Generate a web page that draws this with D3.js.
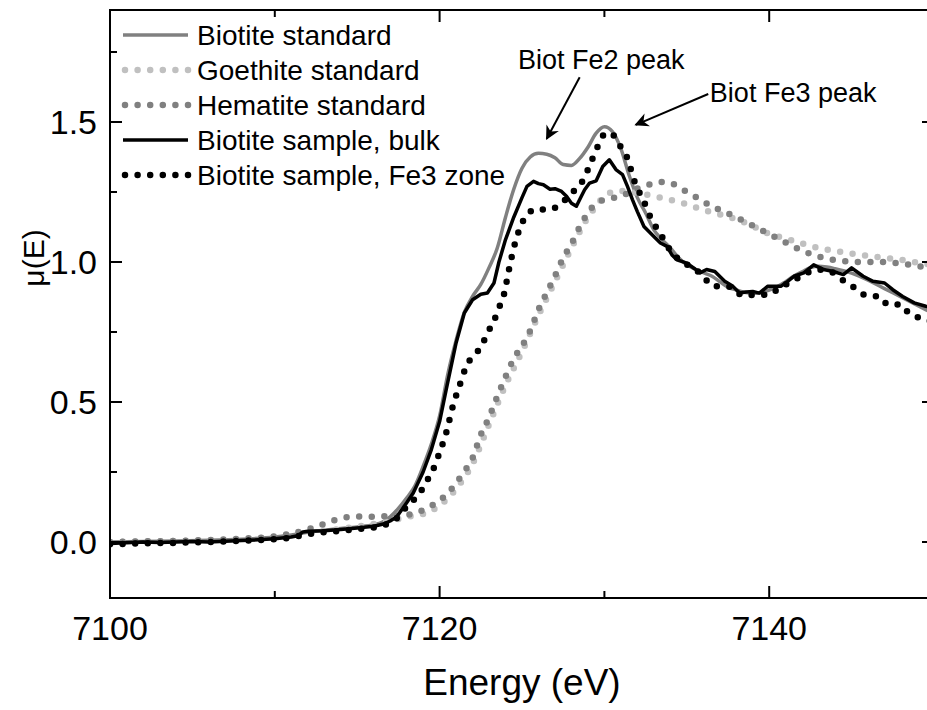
<!DOCTYPE html>
<html>
<head>
<meta charset="utf-8">
<script src="https://cdn.jsdelivr.net/npm/d3@7"></script>
<style>
  html, body { margin: 0; padding: 0; background: #fff; }
  svg { display: block; }
  text { font-family: "Liberation Sans", Arial, Helvetica, sans-serif; fill: #000; }
</style>
</head>
<body>
<svg id="chart" width="927" height="710"></svg>
<script>
// ---------- DATA ----------
const seriesNames = ["Biotite standard", "Goethite standard", "Hematite standard", "Biotite sample, bulk", "Biotite sample, Fe3 zone"];

const biotiteStandard = [
  [7100,0.0],[7102,0.002],[7104,0.004],[7106,0.006],[7108,0.01],[7110,0.018],[7111,0.025],[7112,0.035],
  [7113,0.042],[7114,0.048],[7115,0.054],[7116,0.062],[7116.5,0.07],[7117,0.09],[7117.5,0.12],[7118,0.157],
  [7118.5,0.2],[7119,0.27],[7119.5,0.35],[7120,0.45],[7120.5,0.6],[7121,0.72],[7121.5,0.82],[7122,0.877],
  [7122.5,0.92],[7123,0.98],[7123.5,1.05],[7124,1.16],[7124.5,1.26],[7125,1.335],[7125.5,1.375],[7126,1.388],
  [7126.5,1.385],[7127,1.372],[7127.5,1.348],[7128,1.345],[7128.5,1.37],[7129,1.41],[7129.5,1.46],[7130,1.483],
  [7130.5,1.465],[7131,1.405],[7131.5,1.31],[7132,1.23],[7132.5,1.175],[7133,1.115],[7133.5,1.08],[7134,1.05],
  [7134.5,1.015],[7135,0.99],[7135.5,0.975],[7136,0.962],[7136.5,0.95],[7137,0.93],[7137.5,0.91],[7138,0.9],
  [7138.5,0.892],[7139,0.888],[7139.5,0.89],[7140,0.9],[7140.5,0.912],[7141,0.93],[7141.5,0.95],[7142,0.965],
  [7142.5,0.98],[7143,0.985],[7143.5,0.982],[7144,0.976],[7145,0.96],[7146,0.935],[7147,0.905],[7148,0.875],
  [7149,0.845],[7150,0.815]
];

const goethiteStandard = [
  [7100,0.0],[7102,0.002],[7104,0.004],[7106,0.006],[7108,0.01],[7110,0.018],[7111,0.024],[7112,0.032],
  [7113,0.04],[7114,0.047],[7115,0.055],[7116,0.064],[7117,0.075],[7118,0.09],[7119,0.1],[7120,0.13],
  [7121,0.19],[7122,0.28],[7123,0.42],[7124,0.56],[7125,0.68],[7126,0.81],[7127,0.93],[7128,1.05],
  [7129,1.16],[7129.5,1.2],[7130,1.235],[7130.5,1.25],[7131,1.254],[7131.5,1.252],[7132,1.247],[7133,1.235],
  [7134,1.222],[7135,1.206],[7136,1.186],[7137,1.17],[7138,1.153],[7139,1.128],[7140,1.1],[7141,1.084],
  [7142,1.066],[7143,1.05],[7144,1.04],[7145,1.03],[7146,1.022],[7147,1.015],[7148,1.008],[7149,0.998],[7150,0.99]
];

const hematiteStandard = [
  [7100,0.0],[7102,0.002],[7104,0.004],[7106,0.007],[7108,0.012],[7110,0.02],[7111,0.03],[7112,0.045],
  [7112.7,0.058],[7113.5,0.076],[7114.3,0.088],[7115,0.091],[7116,0.09],[7117,0.093],[7118,0.097],
  [7118.8,0.109],[7119.6,0.133],[7120.3,0.163],[7121,0.21],[7121.5,0.252],[7122,0.3],[7122.5,0.383],
  [7123,0.445],[7123.5,0.52],[7124,0.59],[7124.5,0.655],[7125,0.7],[7125.5,0.755],[7126,0.83],[7126.5,0.89],
  [7127,0.95],[7127.5,1.015],[7128,1.065],[7128.5,1.125],[7129,1.175],[7129.5,1.21],[7130,1.222],
  [7130.5,1.228],[7131,1.236],[7131.5,1.248],[7132,1.262],[7132.5,1.272],[7133,1.282],[7133.5,1.286],
  [7134,1.282],[7134.5,1.27],[7135,1.25],[7135.5,1.234],[7136,1.216],[7136.5,1.2],[7137,1.186],[7138,1.16],
  [7139,1.13],[7140,1.1],[7141,1.07],[7142,1.04],[7143,1.02],[7144,1.007],[7145,1.001],[7146,1.0],
  [7147,1.0],[7148,0.994],[7149,0.986],[7150,0.975]
];

const biotiteBulk = [
  [7100,-0.005],[7101,-0.003],[7102,0.0],[7103,-0.002],[7104,0.0],[7105,0.002],[7106,0.0],[7107,0.003],
  [7108,0.005],[7109,0.008],[7110,0.012],[7111,0.018],[7111.4,0.022],[7111.7,0.036],[7112,0.038],[7113,0.04],
  [7114,0.045],[7115,0.05],[7116,0.056],[7116.6,0.064],[7117,0.075],[7117.4,0.09],[7118,0.14],[7118.4,0.175],
  [7119,0.25],[7119.5,0.33],[7120,0.43],[7120.4,0.544],[7121,0.711],[7121.5,0.818],[7122,0.865],[7122.5,0.885],
  [7122.9,0.889],[7123.3,0.925],[7123.6,1.0],[7124,1.08],[7124.5,1.16],[7125,1.23],[7125.3,1.27],[7125.7,1.288],
  [7126,1.28],[7126.3,1.276],[7126.7,1.26],[7127,1.262],[7127.4,1.252],[7127.7,1.235],[7128,1.21],[7128.3,1.199],
  [7128.6,1.235],[7128.8,1.258],[7129.1,1.282],[7129.5,1.29],[7129.9,1.341],[7130.3,1.365],[7130.7,1.33],
  [7131.1,1.312],[7131.4,1.27],[7131.7,1.223],[7132,1.18],[7132.4,1.127],[7133,1.091],[7133.4,1.068],
  [7133.8,1.056],[7134.1,1.025],[7134.4,1.008],[7135,0.996],[7135.5,0.975],[7135.8,0.961],[7136.2,0.973],
  [7136.7,0.966],[7137.3,0.931],[7137.8,0.913],[7138.2,0.889],[7138.6,0.893],[7139,0.895],[7139.4,0.889],
  [7139.9,0.913],[7140.7,0.913],[7141.1,0.93],[7141.5,0.949],[7142.1,0.961],[7142.7,0.99],[7143.3,0.973],
  [7143.9,0.966],[7144.5,0.955],[7145,0.979],[7145.7,0.949],[7146.3,0.931],[7147,0.925],[7147.5,0.901],
  [7148.1,0.877],[7148.8,0.854],[7149.5,0.842],[7150,0.835]
];

const biotiteFe3Zone = [
  [7100,-0.008],[7102,-0.005],[7104,-0.003],[7106,0.0],[7108,0.004],[7110,0.01],[7111,0.016],[7112,0.028],
  [7113,0.035],[7114,0.04],[7115,0.046],[7116,0.052],[7117,0.07],[7117.5,0.09],[7118,0.127],[7118.8,0.175],
  [7119.2,0.216],[7119.6,0.258],[7120,0.32],[7120.4,0.39],[7120.8,0.484],[7121.3,0.574],[7121.6,0.625],
  [7122,0.663],[7122.5,0.695],[7122.9,0.746],[7123.3,0.79],[7123.6,0.836],[7123.9,0.883],[7124.2,0.97],
  [7124.5,1.05],[7124.8,1.109],[7125.1,1.151],[7125.5,1.18],[7125.8,1.189],[7126.6,1.187],[7127.3,1.205],
  [7128,1.246],[7128.6,1.282],[7129,1.33],[7129.6,1.413],[7130.1,1.461],[7130.5,1.455],[7131,1.41],
  [7131.5,1.354],[7131.7,1.31],[7132,1.264],[7132.4,1.216],[7132.7,1.172],[7133.1,1.128],[7133.6,1.08],
  [7134,1.041],[7134.6,1.005],[7135.2,0.985],[7135.9,0.956],[7136.6,0.913],[7137.2,0.913],[7137.7,0.91],
  [7138.4,0.88],[7139.2,0.883],[7140,0.883],[7140.6,0.907],[7141.4,0.931],[7142.1,0.955],[7142.9,0.973],
  [7143.7,0.966],[7144.5,0.934],[7145.2,0.907],[7145.9,0.88],[7146.7,0.877],[7147.2,0.848],[7148,0.848],
  [7148.5,0.815],[7149.2,0.8],[7150,0.785]
];

const xMajorTicks = [7100, 7120, 7140];
const xMinorTicks = [7110, 7130, 7150];
const yMajorTicks = [0.0, 0.5, 1.0, 1.5];
const yMinorTicks = [0.25, 0.75, 1.25, 1.75];
const xTitle = "Energy (eV)";
const yTitle = "μ(E)";
const annotations = [
  { text: "Biot Fe2 peak", tx: 7124.75, ty: 1.69, from: [7128.5, 1.66], to: [7126.5, 1.44] },
  { text: "Biot Fe3 peak", tx: 7136.4, ty: 1.57, from: [7136.3, 1.6], to: [7131.9, 1.49] }
];

// ---------- LAYOUT ----------
const svg = d3.select("#chart");
const mLeft = 110, mRight = 934, mTop = 10, mBottom = 598;
const x = d3.scaleLinear().domain([7100, 7150]).range([mLeft, mRight]);
const y = d3.scaleLinear().domain([-0.2, 1.9]).range([mBottom, mTop]);

const styles = [
  { data: biotiteStandard, color: "#808080", dotted: false },
  { data: goethiteStandard, color: "#c0c0c0", dotted: true },
  { data: hematiteStandard, color: "#808080", dotted: true },
  { data: biotiteBulk, color: "#000000", dotted: false },
  { data: biotiteFe3Zone, color: "#000000", dotted: true }
];

const defs = svg.append("defs");
defs.append("clipPath").attr("id", "plotclip")
  .append("rect").attr("x", mLeft).attr("y", mTop).attr("width", mRight - mLeft).attr("height", mBottom - mTop);

const smoothLine = d3.line().x(d => x(d[0])).y(d => y(d[1])).curve(d3.curveMonotoneX);
const rawLine = d3.line().x(d => x(d[0])).y(d => y(d[1])).curve(d3.curveLinear);

const plot = svg.append("g").attr("clip-path", "url(#plotclip)");
styles.forEach((s, i) => {
  const p = plot.append("path")
    .attr("d", (i === 3 ? rawLine : smoothLine)(s.data))
    .attr("fill", "none")
    .attr("stroke", s.color)
    .attr("stroke-linejoin", "round");
  if (s.dotted) {
    p.attr("stroke-width", 6.5).attr("stroke-dasharray", "0 12.6").attr("stroke-linecap", "round");
  } else {
    p.attr("stroke-width", 3.5).attr("stroke-linecap", "round");
  }
});

// ---------- FRAME & TICKS ----------
const axes = svg.append("g").attr("stroke", "#000").attr("stroke-width", 2);
axes.append("rect").attr("x", mLeft).attr("y", mTop).attr("width", mRight - mLeft).attr("height", mBottom - mTop).attr("fill", "none");
const majLen = 12, minLen = 7;
xMajorTicks.concat(xMinorTicks).forEach(v => {
  const L = xMajorTicks.includes(v) ? majLen : minLen;
  axes.append("line").attr("x1", x(v)).attr("x2", x(v)).attr("y1", mBottom).attr("y2", mBottom - L);
  axes.append("line").attr("x1", x(v)).attr("x2", x(v)).attr("y1", mTop).attr("y2", mTop + L);
});
yMajorTicks.concat(yMinorTicks).forEach(v => {
  const L = yMajorTicks.includes(v) ? majLen : minLen;
  axes.append("line").attr("y1", y(v)).attr("y2", y(v)).attr("x1", mLeft).attr("x2", mLeft + L);
  axes.append("line").attr("y1", y(v)).attr("y2", y(v)).attr("x1", mRight).attr("x2", mRight - L);
});

// tick labels
xMajorTicks.forEach(v => {
  svg.append("text").attr("x", x(v)).attr("y", 640).attr("text-anchor", "middle")
    .attr("font-size", 34).text(v);
});
yMajorTicks.forEach(v => {
  svg.append("text").attr("x", 97).attr("y", y(v) + 12).attr("text-anchor", "end")
    .attr("font-size", 34).text(d3.format(".1f")(v));
});

// axis titles
svg.append("text").attr("x", 522).attr("y", 695).attr("text-anchor", "middle")
  .attr("font-size", 37).text(xTitle);
svg.append("text").attr("transform", "translate(44,258) rotate(-90)").attr("text-anchor", "middle")
  .attr("font-size", 30).text(yTitle);

// ---------- LEGEND ----------
const legend = svg.append("g");
seriesNames.forEach((name, i) => {
  const s = styles[i];
  const base = 45 + i * 35;
  const ln = legend.append("line").attr("y1", base - 10).attr("y2", base - 10)
    .attr("stroke", s.color);
  if (s.dotted) {
    ln.attr("x1", 125).attr("x2", 188.5).attr("stroke-width", 6.5)
      .attr("stroke-dasharray", "0 12.6").attr("stroke-linecap", "round");
  } else {
    ln.attr("x1", 123).attr("x2", 188).attr("stroke-width", 3.5);
  }
  legend.append("text").attr("x", 197).attr("y", base).attr("font-size", 28).text(name);
});

// ---------- ANNOTATIONS ----------
defs.append("marker").attr("id", "arrowhead")
  .attr("viewBox", "0 0 10 10").attr("refX", 9).attr("refY", 5)
  .attr("markerWidth", 7).attr("markerHeight", 7).attr("markerUnits", "strokeWidth")
  .attr("orient", "auto")
  .append("path").attr("d", "M0,0 L10,5 L0,10 L3,5 Z").attr("fill", "#000");

annotations.forEach(a => {
  svg.append("text").attr("x", x(a.tx)).attr("y", y(a.ty)).attr("font-size", 27).text(a.text);
  svg.append("line").attr("x1", x(a.from[0])).attr("y1", y(a.from[1]))
    .attr("x2", x(a.to[0])).attr("y2", y(a.to[1]))
    .attr("stroke", "#000").attr("stroke-width", 2).attr("marker-end", "url(#arrowhead)");
});
</script>
</body>
</html>
